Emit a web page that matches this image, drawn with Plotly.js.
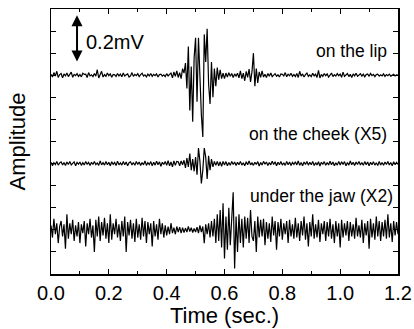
<!DOCTYPE html>
<html><head><meta charset="utf-8">
<script src="https://cdn.plot.ly/plotly-3.0.1.min.js"></script>
<style>html,body{margin:0;padding:0;background:#fff}#chart{width:414px;height:329px}</style>
</head><body><div id="chart"></div>
<script>
var timeStep = 0.005;
var lipSignal = [
0.05,-0.08,0.12,-0.04,0.18,-0.1,0.03,0.08,-0.12,0.06,
-0.03,0.1,-0.06,0.02,0.14,-0.09,0.04,-0.02,0.07,-0.05,
0.03,-0.07,0.09,0.04,0.05,-0.1,0.12,-0.03,0.02,-0.06,
0.08,-0.04,0.25,-0.12,0.06,0.18,-0.08,0.03,-0.05,0.1,
-0.02,0.06,-0.09,0.04,0.02,-0.05,0.08,-0.03,0.05,-0.07,
0.1,-0.04,0.02,0.06,-0.08,-0.03,0.12,-0.05,0.04,-0.02,
0.07,-0.06,0.03,0.09,-0.04,0.02,-0.07,0.05,-0.03,0.08,
-0.05,0.04,-0.02,0.06,-0.08,0.03,0.05,-0.04,0.02,-0.06,
0.07,-0.03,0.04,0.1,-0.12,0.15,-0.05,0.2,-0.1,0.12,
-0.15,0.3,0.1,0.55,-0.6,1.3,-1.6,0.4,-2.1,0.8,
1.7,-1.2,1.7,-0.5,-1.8,-2.8,1.85,0.6,2.1,-0.4,
-1.3,0.6,-1.0,0.3,-0.5,0.35,-0.2,0.25,-0.15,0.1,
-0.15,0.1,-0.08,0.12,-0.05,0.08,-0.1,0.06,-0.04,0.09,
-0.12,0.2,-0.15,0.1,-0.25,0.18,-0.1,0.28,-0.3,0.15,
1.0,-0.5,0.3,-0.35,0.15,-0.1,0.2,-0.08,0.05,-0.1,
0.08,-0.04,0.1,-0.06,0.03,0.07,-0.05,0.02,-0.08,0.06,
0.04,-0.03,0.12,-0.07,0.05,-0.02,0.09,-0.05,0.03,-0.06,
0.08,-0.1,0.18,-0.04,0.06,-0.08,0.03,0.1,-0.05,0.02,
-0.06,0.09,-0.03,0.05,-0.1,0.22,-0.12,0.04,-0.05,0.08,
-0.02,0.06,-0.08,0.04,0.1,-0.06,0.03,-0.04,0.07,-0.02,
0.05,-0.09,0.14,-0.05,0.03,0.08,-0.06,0.04,-0.1,0.06,
-0.03,0.09,-0.05,0.02,0.07,-0.04,0.05,-0.07,0.03,0.06,
-0.05,0.08,-0.02,0.04,-0.06,0.03,0.05,-0.04,0.02,-0.03,
0.06,-0.05,0.03,-0.02,0.05,-0.04,0.02,0.04,-0.03,0.02,0.01];
var cheekSignal = [
0.06,-0.1,0.04,-0.05,0.09,-0.07,0.03,0.08,-0.06,0.05,
-0.09,0.07,-0.04,0.1,-0.06,0.02,0.08,-0.1,0.05,-0.03,
0.07,-0.08,0.04,-0.06,0.09,-0.03,0.05,-0.09,0.06,-0.04,
0.1,-0.05,0.03,-0.08,0.12,-0.06,0.04,-0.07,0.09,-0.05,
0.06,-0.1,0.08,-0.04,0.05,-0.09,0.11,-0.06,0.03,-0.07,
0.09,-0.05,0.07,-0.1,0.04,0.08,-0.06,0.05,-0.08,0.1,
-0.04,0.07,-0.09,0.05,-0.06,0.12,-0.08,0.04,-0.05,0.09,
-0.1,0.06,-0.07,0.11,-0.05,0.08,-0.12,0.06,-0.04,0.1,
-0.08,0.13,-0.1,0.07,-0.15,0.12,-0.08,0.1,0.08,-0.1,
0.12,-0.05,0.15,-0.2,0.25,-0.15,0.45,-0.3,0.2,-0.35,
0.3,-0.5,0.7,0.1,-0.9,-0.3,0.7,0.3,-0.7,0.35,
-0.3,0.2,-0.15,0.1,-0.08,0.1,-0.1,0.08,-0.12,0.1,
-0.06,0.09,-0.1,0.05,-0.08,0.1,-0.04,0.07,-0.09,0.06,
-0.05,0.1,-0.07,0.04,-0.1,0.08,-0.05,0.12,-0.06,0.03,
-0.08,0.06,-0.04,0.09,-0.11,0.05,-0.06,0.1,-0.03,0.07,
-0.09,0.05,-0.06,0.11,-0.04,0.08,-0.1,0.06,-0.05,0.09,
-0.07,0.04,-0.08,0.1,-0.05,0.07,-0.09,0.05,-0.04,0.08,
-0.06,0.12,-0.08,0.05,-0.1,0.07,-0.04,0.09,-0.07,0.06,
-0.05,0.1,-0.09,0.04,-0.06,0.08,-0.11,0.06,-0.03,0.09,
-0.08,0.05,-0.06,0.11,-0.05,0.07,-0.1,0.04,-0.07,0.1,
-0.06,0.08,-0.04,0.09,-0.1,0.05,-0.07,0.12,-0.05,0.06,
-0.09,0.07,-0.04,0.1,-0.06,0.05,-0.08,0.09,-0.05,0.07,
-0.1,0.06,-0.05,0.08,-0.07,0.04,-0.09,0.1,-0.06,0.05,
-0.08,0.07,-0.04,0.09,-0.06,0.05,-0.1,0.08,-0.05,0.06,-0.04];
var jawSignal = [
0.2,-0.35,0.5,-0.2,0.3,-0.6,0.15,0.4,-0.3,0.25,
-0.85,0.7,-0.4,0.3,-0.2,0.45,-0.5,0.2,-0.3,0.35,
-0.6,0.25,-0.15,0.4,-0.75,0.3,-0.2,0.5,-0.35,0.2,
-1.0,0.45,-0.3,0.6,-0.5,0.35,-0.25,0.55,-0.4,0.3,
-0.6,0.7,-0.45,0.3,-0.2,0.5,-0.35,0.25,-0.5,0.4,
-0.3,0.6,-1.0,0.35,-0.25,0.45,-0.4,0.3,-0.55,0.5,
-0.35,0.25,-0.45,0.55,-0.3,0.4,-0.6,0.35,-0.2,0.3,
-0.75,0.4,-0.3,0.25,-0.45,0.5,-0.2,0.3,-0.35,0.2,
-0.25,0.15,-0.2,0.3,-0.15,0.1,-0.2,0.15,-0.1,0.12,
-0.15,0.1,-0.12,0.08,-0.1,0.15,-0.08,0.1,-0.12,0.06,
-0.1,0.12,-0.15,0.2,-0.1,0.15,-0.6,0.25,-0.2,0.3,
-0.35,0.4,-0.3,0.5,-0.6,0.7,-0.5,0.9,-0.8,1.2,
-1.3,0.6,-0.9,1.0,-0.7,0.8,1.7,-1.75,0.6,-1.0,
0.7,-0.6,0.5,-0.8,0.6,-0.4,0.55,-0.6,0.9,-0.3,
-0.5,0.4,-1.0,0.6,-0.35,0.45,-0.3,0.5,-0.7,0.35,
-0.4,0.3,-0.55,0.6,-0.25,0.4,-0.9,0.35,-0.3,0.5,
-0.45,0.3,-0.2,0.4,-0.6,0.45,-0.3,0.25,-0.4,0.55,
-0.35,0.3,-0.5,0.4,-0.25,0.6,-0.45,0.3,-0.75,0.35,
-0.3,0.7,-0.4,0.25,-0.35,0.45,-0.55,0.3,-0.2,0.4,
-0.5,0.35,-0.3,0.5,-0.4,0.25,-0.6,0.4,-0.3,0.3,
-0.8,0.45,-0.35,0.3,-0.25,0.4,-0.5,0.35,-0.3,0.25,
-0.4,0.55,-0.3,0.2,-0.35,0.45,-0.6,0.3,-0.25,0.4,
-0.85,0.5,-0.35,0.3,-0.45,0.6,-0.3,0.4,-0.5,0.35,
-0.3,0.45,-0.4,0.7,-0.35,0.3,-0.55,0.4,-0.25,0.35,-0.2];
var traceNames = ["on the lip", "on the cheek (X5)", "under the jaw (X2)"];
var traceOffsets = [9, 5, 2];
var xTickVals = [0, 0.2, 0.4, 0.6, 0.8, 1.0, 1.2];
var xTickText = ["0.0", "0.2", "0.4", "0.6", "0.8", "1.0", "1.2"];
var scaleLabel = "0.2mV";

var signals = [lipSignal, cheekSignal, jawSignal];
var FONT = "Liberation Sans, Arial, sans-serif";
var data = signals.map(function (s, k) {
  return {
    x: s.map(function (_, i) { return +(i * timeStep).toFixed(4); }),
    y: s.map(function (v) { return v + traceOffsets[k]; }),
    type: "scatter", mode: "lines", name: traceNames[k],
    line: { color: "#000", width: 1.2 }, hoverinfo: "skip"
  };
});
var annLabelY = [10.1, 6.35, 3.55];
var annLabelX = [1.17, 1.17, 1.19];
var annotations = traceNames.map(function (t, k) {
  return { x: annLabelX[k], y: annLabelY[k], xref: "x", yref: "y", text: t, showarrow: false,
    xanchor: "right", yanchor: "middle", font: { family: FONT, size: 17.5, color: "#000" } };
});
annotations.push({ x: 0.09, y: 11.72, ax: 0.09, ay: 9.55, xref: "x", yref: "y", axref: "x", ayref: "y",
  text: "", showarrow: true, arrowhead: 2, arrowside: "end+start", arrowsize: 1.1, arrowwidth: 2, arrowcolor: "#000" });
annotations.push({ x: 0.114, y: 10.5, xref: "x", yref: "y", text: scaleLabel, showarrow: false,
  xanchor: "left", yanchor: "middle", font: { family: FONT, size: 20, color: "#000" } });

var layout = {
  width: 414, height: 329,
  margin: { l: 51, r: 16, t: 9, b: 55 },
  paper_bgcolor: "#fff", plot_bgcolor: "#fff",
  showlegend: false,
  font: { family: FONT, color: "#000" },
  xaxis: {
    range: [0, 1.2], tickvals: xTickVals, ticktext: xTickText,
    ticks: "inside", ticklen: 5, tickwidth: 1, tickcolor: "#000",
    minor: { ticks: "inside", dtick: 0.1, tick0: 0, ticklen: 3, tickcolor: "#000" },
    showline: true, linecolor: "#000", linewidth: 1.5, mirror: "ticks",
    showgrid: false, zeroline: false,
    tickfont: { family: FONT, size: 20, color: "#000" },
    title: { text: "Time (sec.)", font: { family: FONT, size: 22, color: "#000" }, standoff: 0 }
  },
  yaxis: {
    range: [0, 12], dtick: 1, tick0: 0, showticklabels: false,
    ticks: "inside", ticklen: 5, tickwidth: 1, tickcolor: "#000",
    showline: true, linecolor: "#000", linewidth: 1.5, mirror: "ticks",
    showgrid: false, zeroline: false,
    title: { text: "Amplitude", font: { family: FONT, size: 22, color: "#000" }, standoff: 18 }
  },
  annotations: annotations
};
Plotly.newPlot("chart", data, layout, { staticPlot: true, displayModeBar: false });
</script></body></html>
